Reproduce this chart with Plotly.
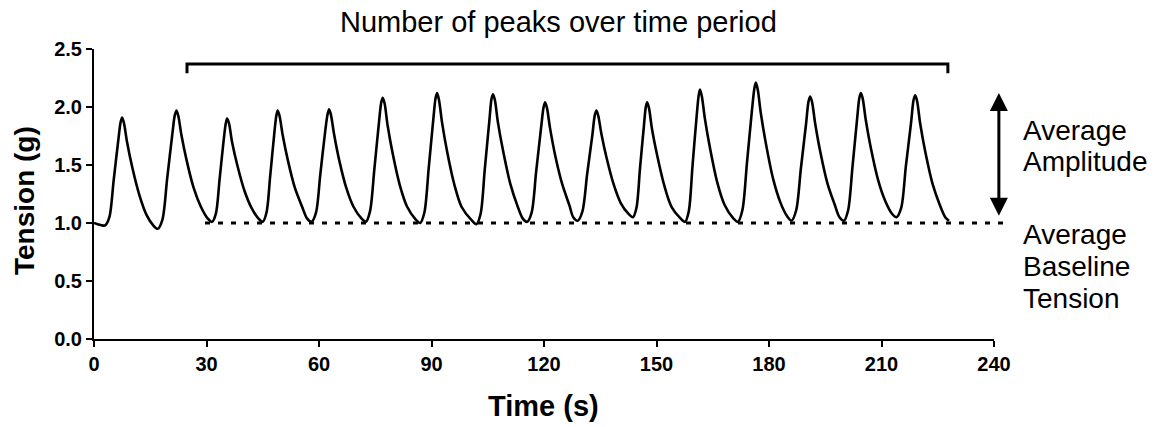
import plotly.graph_objects as go

# ---------------- data ----------------
time_s = [
    0.0, 1.0, 2.0,
    3.0, 4.1, 5.25, 6.5, 7.1, 7.5, 8.0, 8.8, 10.2, 12.1, 14.0, 15.8, 17.0,
    18.25, 19.5, 20.9, 21.55, 22.0, 22.5, 23.3, 24.7, 26.6, 28.5, 30.3, 31.5,
    32.5, 33.5, 34.6, 35.15, 35.5, 36.0, 36.8, 38.2, 40.1, 42.0, 43.8, 45.0,
    46.0, 47.0, 48.1, 48.65, 49.0, 49.5, 50.3, 51.7, 53.6, 55.5, 56.8, 58.0,
    59.2, 60.35, 61.65, 62.3, 62.7, 63.2, 64.0, 65.4, 67.3, 69.2, 71.3, 72.5,
    73.6, 74.75, 76.0, 76.6, 77.0, 77.5, 78.3, 79.7, 81.6, 83.5, 85.8, 87.0,
    88.1, 89.25, 90.5, 91.1, 91.5, 92.0, 92.8, 94.2, 96.1, 98.0, 100.8, 102.0,
    103.1, 104.2, 105.45, 106.0, 106.4, 106.9, 107.7, 109.1, 111.0, 112.9, 114.3, 115.5,
    116.7, 117.9, 119.25, 119.9, 120.3, 120.8, 121.6, 123.0, 124.9, 126.8, 127.8, 129.0,
    130.25, 131.5, 132.9, 133.55, 134.0, 134.5, 135.3, 136.7, 138.6, 140.5, 142.5, 143.7,
    144.65, 145.6, 146.65, 147.15, 147.5, 148.0, 148.8, 150.2, 152.1, 154.0, 156.4, 157.6,
    158.6, 159.6, 160.7, 161.25, 161.6, 162.1, 162.9, 164.3, 166.2, 168.1, 170.5, 171.7,
    172.9, 174.1, 175.45, 176.1, 176.5, 177.0, 177.8, 179.2, 181.1, 183.0, 184.8, 186.0,
    187.25, 188.5, 189.9, 190.55, 191.0, 191.5, 192.3, 193.7, 195.6, 197.5, 198.8, 200.0,
    201.1, 202.25, 203.5, 204.1, 204.5, 205.0, 205.8, 207.2, 209.1, 211.0, 212.8, 214.0,
    215.25, 216.5, 217.9, 218.55, 219.0, 219.5, 220.3, 221.7, 223.6, 225.5, 227.0, 228.0,
]
tension_g = [
    1.00, 0.99, 0.98,
    0.98, 1.05, 1.37, 1.72, 1.87, 1.91, 1.86, 1.70, 1.48, 1.24, 1.07, 0.98, 0.95,
    1.03, 1.38, 1.77, 1.93, 1.97, 1.92, 1.76, 1.54, 1.30, 1.14, 1.04, 1.01,
    1.08, 1.38, 1.72, 1.86, 1.90, 1.86, 1.70, 1.50, 1.28, 1.13, 1.04, 1.01,
    1.09, 1.41, 1.78, 1.93, 1.97, 1.92, 1.76, 1.54, 1.30, 1.14, 1.04, 1.01,
    1.09, 1.42, 1.79, 1.94, 1.98, 1.93, 1.77, 1.54, 1.30, 1.14, 1.04, 1.01,
    1.10, 1.46, 1.87, 2.04, 2.08, 2.03, 1.84, 1.59, 1.32, 1.14, 1.03, 1.00,
    1.09, 1.47, 1.90, 2.08, 2.12, 2.06, 1.87, 1.61, 1.33, 1.14, 1.02, 0.99,
    1.08, 1.46, 1.89, 2.07, 2.11, 2.06, 1.87, 1.62, 1.34, 1.15, 1.04, 1.01,
    1.09, 1.44, 1.83, 2.00, 2.04, 1.99, 1.82, 1.58, 1.33, 1.15, 1.05, 1.02,
    1.10, 1.42, 1.76, 1.93, 1.97, 1.92, 1.77, 1.56, 1.33, 1.17, 1.08, 1.05,
    1.13, 1.47, 1.84, 2.00, 2.04, 1.99, 1.81, 1.58, 1.32, 1.14, 1.04, 1.01,
    1.10, 1.49, 1.92, 2.10, 2.15, 2.09, 1.90, 1.64, 1.35, 1.16, 1.04, 1.01,
    1.11, 1.51, 1.97, 2.16, 2.21, 2.15, 1.95, 1.68, 1.38, 1.18, 1.06, 1.02,
    1.11, 1.47, 1.86, 2.05, 2.09, 2.04, 1.86, 1.61, 1.34, 1.16, 1.05, 1.02,
    1.11, 1.48, 1.90, 2.08, 2.12, 2.07, 1.89, 1.64, 1.37, 1.19, 1.08, 1.05,
    1.13, 1.49, 1.87, 2.06, 2.10, 2.05, 1.86, 1.61, 1.34, 1.16, 1.05, 1.02,
]

x_ticks = [0, 30, 60, 90, 120, 150, 180, 210, 240]
y_ticks = [0.0, 0.5, 1.0, 1.5, 2.0, 2.5]

baseline_tension = 1.0            # dotted "average baseline" level
baseline_span = [29.6, 242.5]      # seconds
bracket_span = [24.8, 227.7]       # seconds
bracket_level = [2.37, 2.29]       # top bar, end-tick bottoms
amplitude_arrow_x = 241.3          # seconds
amplitude_arrow_y = [1.05, 2.12]   # tension

title_text = "Number of peaks over time period"
amp_label = ["Average", "Amplitude"]
base_label = ["Average", "Baseline", "Tension"]

# ---------------- layout geometry ----------------
W, H = 1166, 427
ML, MR, MT, MB = 94, 172, 49, 88
PW, PH = W - ML - MR, H - MT - MB
X_RANGE = [0, 240]
Y_RANGE = [0, 2.5]


def px(xv):
    return (xv - X_RANGE[0]) / (X_RANGE[1] - X_RANGE[0])


def py(yv):
    return (yv - Y_RANGE[0]) / (Y_RANGE[1] - Y_RANGE[0])


def pix_to_py(pix_y):
    return (H - MB - pix_y) / PH


def pix_to_px(pix_x):
    return (pix_x - ML) / PW


FONT = "Liberation Sans, Arial, sans-serif"

fig = go.Figure()
fig.add_trace(go.Scatter(
    x=time_s, y=tension_g, mode="lines",
    line=dict(color="black", width=2.6, shape="spline", smoothing=0.85),
    hoverinfo="skip",
))

shapes = []
# dotted baseline
shapes.append(dict(type="line", xref="paper", yref="paper",
                   x0=px(baseline_span[0]), x1=px(baseline_span[1]),
                   y0=py(baseline_tension), y1=py(baseline_tension),
                   line=dict(color="black", width=3, dash="5px,8px")))
# bracket
shapes.append(dict(type="path", xref="paper", yref="paper",
                   path=(f"M{px(bracket_span[0])},{py(bracket_level[1])} "
                         f"L{px(bracket_span[0])},{py(bracket_level[0])} "
                         f"L{px(bracket_span[1])},{py(bracket_level[0])} "
                         f"L{px(bracket_span[1])},{py(bracket_level[1])}"),
                   line=dict(color="black", width=3)))

annotations = []
# double arrow (amplitude)
arrow_len_px = (amplitude_arrow_y[1] - amplitude_arrow_y[0]) / (Y_RANGE[1] - Y_RANGE[0]) * PH
annotations.append(dict(
    xref="paper", yref="paper", x=px(amplitude_arrow_x), y=py(amplitude_arrow_y[1]),
    ax=0, ay=arrow_len_px, axref="pixel", ayref="pixel", text="",
    showarrow=True, arrowside="end+start", arrowhead=2, startarrowhead=2,
    arrowsize=1.2, startarrowsize=1.2, arrowwidth=3, arrowcolor="black",
    standoff=0, startstandoff=0,
))
# title
annotations.append(dict(xref="paper", yref="paper", x=pix_to_px(558), y=pix_to_py(22),
                        text=title_text, showarrow=False, xanchor="center", yanchor="middle",
                        font=dict(family=FONT, size=29, color="black")))
# axis titles
annotations.append(dict(xref="paper", yref="paper", x=pix_to_px(543), y=pix_to_py(406),
                        text="<b>Time (s)</b>", showarrow=False, xanchor="center", yanchor="middle",
                        font=dict(family=FONT, size=29, color="black")))
annotations.append(dict(xref="paper", yref="paper", x=pix_to_px(25), y=pix_to_py(201),
                        text="<b>Tension (g)</b>", textangle=-90, showarrow=False,
                        xanchor="center", yanchor="middle",
                        font=dict(family=FONT, size=28, color="black")))
# right-hand labels
for txt, ypix in zip(amp_label + base_label, [130, 161, 234, 266, 298]):
    annotations.append(dict(xref="paper", yref="paper", x=pix_to_px(1021), y=pix_to_py(ypix),
                            text=txt, showarrow=False, xanchor="left", yanchor="middle",
                            font=dict(family=FONT, size=28, color="black")))

axis_common = dict(showgrid=False, zeroline=False, showline=True, linecolor="black",
                   linewidth=2, ticks="outside", ticklen=6, tickwidth=2, tickcolor="black",
                   tickfont=dict(family=FONT, size=20, color="black", weight="bold"))

fig.update_layout(
    width=W, height=H, margin=dict(l=ML, r=MR, t=MT, b=MB, pad=0),
    paper_bgcolor="white", plot_bgcolor="white", showlegend=False,
    xaxis=dict(range=X_RANGE, tickmode="array", tickvals=x_ticks,
               ticktext=[str(v) for v in x_ticks], **axis_common),
    yaxis=dict(range=Y_RANGE, tickmode="array", tickvals=y_ticks,
               ticktext=[f"{v:.1f}" for v in y_ticks], **axis_common),
    shapes=shapes, annotations=annotations,
)

fig.write_html("out.html")
